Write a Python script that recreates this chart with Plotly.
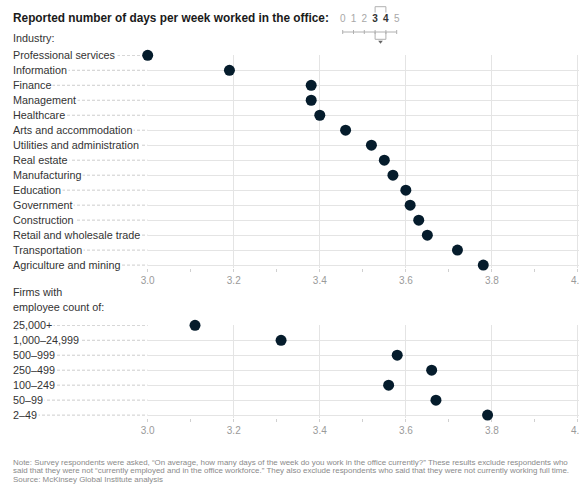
import plotly.graph_objects as go

# ---- data -------------------------------------------------------------
industries = [
    "Professional services", "Information", "Finance", "Management",
    "Healthcare", "Arts and accommodation", "Utilities and administration",
    "Real estate", "Manufacturing", "Education", "Government",
    "Construction", "Retail and wholesale trade", "Transportation",
    "Agriculture and mining",
]
industry_days = [3.00, 3.19, 3.38, 3.38, 3.40, 3.46, 3.52, 3.55, 3.57,
                 3.60, 3.61, 3.63, 3.65, 3.72, 3.78]

firm_sizes = ["25,000+", "1,000–24,999", "500–999", "250–499",
              "100–249", "50–99", "2–49"]
firm_days = [3.11, 3.31, 3.58, 3.66, 3.56, 3.67, 3.79]

x_ticks = [3.0, 3.2, 3.4, 3.6, 3.8, 4.0]
key_days = [0, 1, 2, 3, 4, 5]
key_highlight = [3, 4]

# ---- styling ----------------------------------------------------------
W, H = 579, 484
FONT = "Liberation Sans, Arial, sans-serif"
DOT = "#051c2c"
LABEL = "#333333"
GRID = "#e4e4e4"
LEADER = "#cdcdcd"
TICK = "#9a9a9a"


def px_x(p):
    return p / W


def px_y(p):
    return 1 - p / H


PLOT_LEFT = px_x(147.7)

fig = go.Figure()

fig.add_trace(go.Scatter(
    x=industry_days, y=list(range(len(industries))), mode="markers",
    marker=dict(size=11, color=DOT), cliponaxis=False, hoverinfo="skip",
    xaxis="x", yaxis="y", showlegend=False,
))
fig.add_trace(go.Scatter(
    x=firm_days, y=list(range(len(firm_sizes))), mode="markers",
    marker=dict(size=11, color=DOT), cliponaxis=False, hoverinfo="skip",
    xaxis="x2", yaxis="y2", showlegend=False,
))

# ---- small 0-5 day scale key next to the title -------------------------
fig.add_trace(go.Scatter(
    x=key_days, y=[19.5] * len(key_days), mode="text",
    text=[f"<b>{d}</b>" if d in key_highlight else str(d) for d in key_days],
    textfont=dict(family=FONT, size=10,
                  color=[LABEL if d in key_highlight else "#a8a8a8" for d in key_days]),
    cliponaxis=False, hoverinfo="skip", xaxis="x3", yaxis="y3", showlegend=False,
))
fig.add_trace(go.Scatter(
    x=[sum(key_highlight) / 2], y=[41.8], mode="markers",
    marker=dict(symbol="triangle-down", size=4, color="#666666"),
    cliponaxis=False, hoverinfo="skip", xaxis="x3", yaxis="y3", showlegend=False,
))

shapes = []
key_line = dict(color="#b0b0b0", width=1)
shapes.append(dict(type="line", xref="x3", yref="y3", x0=key_days[0], x1=key_days[-1],
                   y0=32, y1=32, line=key_line))
for d in key_days:
    shapes.append(dict(type="line", xref="x3", yref="y3", x0=d, x1=d,
                       y0=30, y1=34, line=key_line))
lo, hi = key_highlight
shapes.append(dict(type="path", xref="x3", yref="y3",
                   path=f"M{lo},12.5 L{lo},6.7 L{hi},6.7 L{hi},12.5", line=key_line))
shapes.append(dict(type="path", xref="x3", yref="y3",
                   path=f"M{lo},32 L{lo},39.3 L{hi},39.3 L{hi},32", line=key_line))

annotations = []


def add_rows(labels, yref):
    for i, lab in enumerate(labels):
        shapes.append(dict(type="line", xref="paper", yref=yref,
                           x0=px_x(12), x1=PLOT_LEFT, y0=i, y1=i, layer="below",
                           line=dict(color=LEADER, width=1, dash="3px,2px")))
        annotations.append(dict(text=lab, xref="paper", yref=yref, x=px_x(11),
                                y=i, xanchor="left", yanchor="middle",
                                showarrow=False, bgcolor="white", borderpad=1,
                                font=dict(family=FONT, size=10.8, color=LABEL)))


add_rows(industries, "y")
add_rows(firm_sizes, "y2")

annotations += [
    dict(text="<b>Reported number of days per week worked in the office:</b>",
         xref="paper", yref="paper", x=px_x(11), y=px_y(18.5), xanchor="left",
         yanchor="middle", showarrow=False,
         font=dict(family=FONT, size=11.85, color="#1a1a1a")),
    dict(text="Industry:", xref="paper", yref="paper", x=px_x(11), y=px_y(38),
         xanchor="left", yanchor="middle", showarrow=False,
         font=dict(family=FONT, size=10.8, color=LABEL)),
    dict(text="Firms with", xref="paper", yref="paper", x=px_x(11), y=px_y(292),
         xanchor="left", yanchor="middle", showarrow=False,
         font=dict(family=FONT, size=10.8, color=LABEL)),
    dict(text="employee count of:", xref="paper", yref="paper", x=px_x(11),
         y=px_y(307), xanchor="left", yanchor="middle", showarrow=False,
         font=dict(family=FONT, size=10.8, color=LABEL)),
]

note_lines = [
    "Note: Survey respondents were asked, “On average, how many days of the week do you work in the office currently?” These results exclude respondents who",
    "said that they were not “currently employed and in the office workforce.” They also exclude respondents who said that they were not currently working full time.",
    "Source: McKinsey Global Institute analysis",
]
for k, line in enumerate(note_lines):
    annotations.append(dict(text=line, xref="paper", yref="paper", x=px_x(11),
                            y=px_y(462 + 8.6 * k), xanchor="left", yanchor="middle",
                            showarrow=False,
                            font=dict(family=FONT, size=7.95, color="#8a8a8a")))


def value_axis(domain_anchor):
    return dict(
        domain=[PLOT_LEFT, 1.0], range=[3.0, 4.0025], anchor=domain_anchor,
        automargin=False, ticklabeloverflow="allow",
        tickvals=x_ticks, tickformat=".1f", showgrid=True, gridcolor=GRID,
        gridwidth=1, zeroline=False, showline=False, ticks="outside",
        ticklen=3, tickcolor="#d0d0d0",
        minor=dict(dtick=0.1, tick0=3.0, ticks="outside", ticklen=3,
                   tickcolor="#d0d0d0", showgrid=False),
        tickfont=dict(family=FONT, size=10, color=TICK), fixedrange=True,
    )


def category_axis(n, top_px, bottom_px, anchor):
    return dict(
        domain=[px_y(bottom_px), px_y(top_px)], range=[n - 1 + 0.16, -0.02],
        anchor=anchor, automargin=False, showgrid=True, gridcolor=GRID,
        gridwidth=1, tickvals=list(range(n)), showticklabels=False, ticks="",
        zeroline=False, showline=False, fixedrange=True,
    )


fig.update_layout(
    width=W, height=H, margin=dict(l=0, r=0, t=0, b=0, autoexpand=False),
    paper_bgcolor="white", plot_bgcolor="white",
    font=dict(family=FONT, color=LABEL),
    xaxis=value_axis("y"),
    yaxis=category_axis(len(industries), 55, 267.5, "x"),
    xaxis2=value_axis("y2"),
    yaxis2=category_axis(len(firm_sizes), 325, 417.5, "x2"),
    xaxis3=dict(domain=[px_x(337.3), px_x(402.1)], range=[-0.5, 5.5],
                anchor="y3", visible=False, fixedrange=True, automargin=False),
    yaxis3=dict(domain=[px_y(46), px_y(2)], range=[46, 2], anchor="x3",
                visible=False, fixedrange=True, automargin=False),
    shapes=shapes, annotations=annotations,
)

fig.write_html("out.html")
